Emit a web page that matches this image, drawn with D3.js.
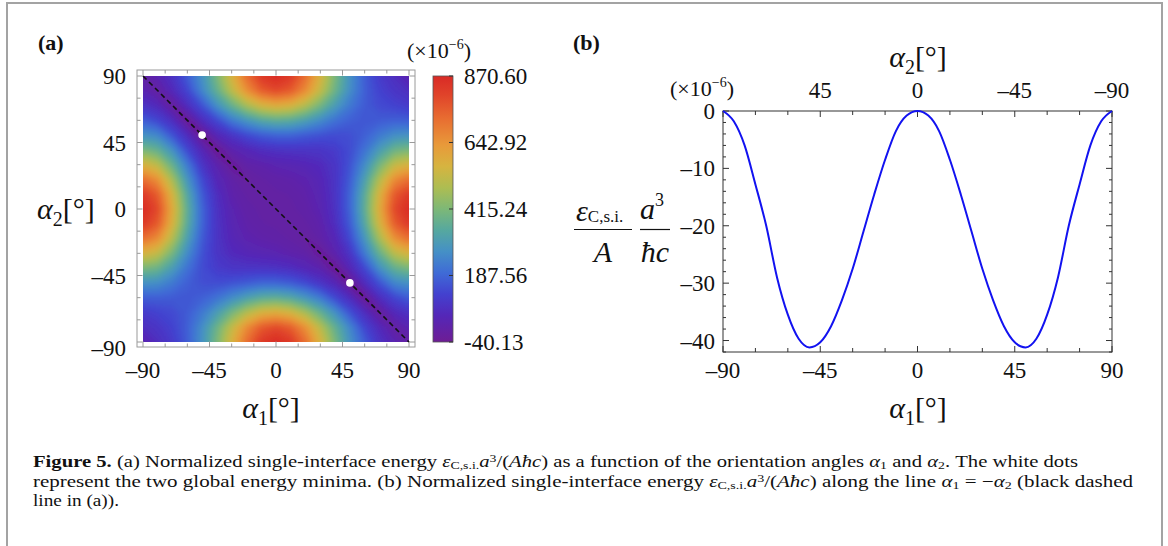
<!DOCTYPE html>
<html>
<head>
<meta charset="utf-8">
<script src="https://cdn.jsdelivr.net/npm/d3@7/dist/d3.min.js"></script>
<style>
  body { margin: 0; background: #fff; }
  svg text { font-family: "Liberation Serif", "Times New Roman", serif; fill: #111; }
</style>
</head>
<body>
<div id="chart"></div>
<script>
// ---- panel (a): energy map, x1e-6, rows alpha2 = 90 ... -90, cols alpha1 = -90 ... 90 (10 deg)
const gridAlpha1 = [-90, -80, -70, -60, -50, -40, -30, -20, -10, 0, 10, 20, 30, 40, 50, 60, 70, 80, 90]
const gridAlpha2 = [90, 80, 70, 60, 50, 40, 30, 20, 10, 0, -10, -20, -30, -40, -50, -60, -70, -80, -90]
const energyGrid = [
  [0, 35, 86, 173, 276, 411, 569, 723, 832, 870, 832, 723, 569, 411, 276, 173, 107, 71, 30],
  [35, -6, 56, 129, 249, 369, 509, 650, 754, 795, 760, 660, 523, 385, 265, 176, 124, 93, 71],
  [86, 56, -20, 70, 153, 272, 374, 477, 555, 587, 566, 497, 402, 304, 223, 169, 140, 124, 107],
  [173, 129, 70, -35, 67, 135, 225, 285, 337, 361, 351, 313, 262, 211, 176, 165, 169, 176, 173],
  [276, 249, 153, 67, -41, 47, 89, 137, 168, 184, 184, 168, 154, 142, 148, 176, 223, 265, 276],
  [411, 369, 272, 135, 47, -38, 24, 45, 70, 81, 86, 88, 91, 108, 142, 211, 304, 385, 411],
  [569, 509, 374, 225, 89, 24, -28, 9, 17, 30, 36, 45, 61, 91, 154, 262, 402, 523, 569],
  [723, 650, 477, 285, 137, 45, 9, -15, 1, 8, 14, 24, 45, 88, 169, 313, 497, 660, 723],
  [832, 754, 555, 337, 168, 70, 17, 1, -4, 0, 3, 14, 36, 86, 184, 351, 566, 760, 832],
  [870, 795, 587, 361, 184, 81, 30, 7, 0, 0, 0, 7, 30, 81, 184, 361, 587, 795, 870],
  [832, 760, 566, 351, 184, 86, 36, 14, 3, 0, -4, 1, 17, 70, 168, 337, 555, 754, 832],
  [723, 660, 497, 313, 169, 88, 45, 24, 14, 8, 1, -15, 9, 45, 137, 285, 477, 650, 723],
  [569, 523, 402, 262, 154, 91, 61, 45, 36, 30, 17, 9, -28, 24, 89, 225, 374, 509, 569],
  [411, 385, 304, 211, 142, 108, 91, 88, 86, 81, 70, 45, 24, -38, 47, 135, 272, 369, 411],
  [276, 265, 223, 176, 148, 142, 154, 168, 184, 184, 168, 137, 89, 47, -41, 67, 153, 249, 276],
  [173, 176, 169, 165, 176, 211, 262, 313, 351, 361, 337, 285, 225, 135, 67, -35, 70, 129, 173],
  [107, 124, 140, 169, 223, 304, 402, 497, 566, 587, 555, 477, 374, 272, 153, 70, -20, 56, 86],
  [71, 93, 124, 176, 265, 385, 523, 660, 760, 795, 754, 650, 509, 369, 249, 129, 56, -6, 35],
  [30, 71, 107, 173, 276, 411, 569, 723, 832, 870, 832, 723, 569, 411, 276, 173, 86, 35, 0]
]
const minima = [[-50, 50], [50, -50]]
const diagLine = [[-90, 90], [90, -90]]
const colorbarTicks = [-40.13, 187.56, 415.24, 642.92, 870.60]
const angleTicks = [-90, -45, 0, 45, 90]

// colour scheme (rainbow), positions along the colour bar
const cmapPos = [0, 0.1, 0.18, 0.26, 0.34, 0.42, 0.5, 0.58, 0.66, 0.74, 0.84, 0.93, 1]
const cmapColors = ['#6e1d94', '#5427b8', '#4341cf', '#3f6bd6', '#4590c6', '#56a89f', '#7db877',
  '#adbd52', '#d6b440', '#e89a3a', '#e86d31', '#e0432a', '#d92a26']

// ---- panel (b): along alpha1 = -alpha2
const lineAlpha1 = [-90, -85, -80, -75, -70, -65, -60, -55, -50, -45, -40, -35, -30, -25, -20, -15, -10, -5, 0,
  5, 10, 15, 20, 25, 30, 35, 40, 45, 50, 55, 60, 65, 70, 75, 80, 85, 90]
const lineEnergy = [0, -1.8, -6, -12.8, -20, -29, -35.5, -39.7, -41.2, -40.3, -37.5, -33, -27.5, -21, -14.5, -8.5, -3.5, -0.8, 0,
  -0.8, -3.5, -8.5, -14.5, -21, -27.5, -33, -37.5, -40.3, -41.2, -39.7, -35.5, -29, -20, -12.8, -6, -1.8, 0]
const energyTicks = [0, -10, -20, -30, -40]
const alpha2TopTicks = [45, 0, -45, -90]

const W = 1168, H = 546
const svg = d3.select('#chart').append('svg')
  .attr('width', W).attr('height', H)
  .style('background', '#fff')

const fmt = v => v < 0 ? '\u2013' + Math.abs(v) : String(v)

// text with italic / sub / sup pieces
function rich(sel, x, y, size, parts) {
  const t = sel.append('text').attr('x', x).attr('y', y).attr('font-size', size)
  let cur = 0
  parts.forEach(p => {
    const sp = t.append('tspan').text(p.t)
    const sh = p.shift || 0
    if (sh !== cur) { sp.attr('dy', sh - cur); cur = sh }
    if (p.i) sp.attr('font-style', 'italic')
    if (p.b) sp.attr('font-weight', 'bold')
    if (p.s) sp.attr('font-size', p.s)
  })
  return t
}
function alphaLabel(sel, x, y, n, anchor) {
  return rich(sel, x, y, 30, [
    {t: 'α', i: 1}, {t: n, s: 20, shift: 7}, {t: '[°]', shift: 0}
  ]).attr('text-anchor', anchor || 'start')
}

// figure border
svg.append('path')
  .attr('d', 'M7,' + H + 'V3H1162V' + H)
  .attr('fill', 'none').attr('stroke', '#a3a3a3').attr('stroke-width', 2)

// ================= panel (a)
const xA = d3.scaleLinear().domain([-90, 90]).range([143, 409])
const yA = d3.scaleLinear().domain([-90, 90]).range([342, 76])
const vmin = -40.13, vmax = 870.60
const color = d3.scaleLinear()
  .domain(cmapPos.map(t => vmin + t * (vmax - vmin)))
  .range(cmapColors)
  .clamp(true)

const defs = svg.append('defs')
defs.append('clipPath').attr('id', 'clipA')
  .append('rect').attr('x', xA(-90)).attr('y', yA(90))
  .attr('width', xA(90) - xA(-90)).attr('height', yA(-90) - yA(90))
defs.append('filter').attr('id', 'soft')
  .append('feGaussianBlur').attr('stdDeviation', 2.6)

const step = gridAlpha1[1] - gridAlpha1[0]
const proj = d3.geoTransform({
  point(x, y) {
    this.stream.point(xA(gridAlpha1[0] - step / 2 + x * step), yA(gridAlpha2[0] + step / 2 - y * step))
  }
})
const gpath = d3.geoPath(proj)
const contours = d3.contours()
  .size([gridAlpha1.length, gridAlpha2.length])
  .thresholds(d3.range(-46, 880, 8))(energyGrid.flat())

const heat = svg.append('g').attr('clip-path', 'url(#clipA)')
  .append('g').attr('filter', 'url(#soft)')
heat.selectAll('path')
  .data(contours)
  .enter().append('path')
    .attr('d', gpath)
    .attr('fill', d => color(d.value + 4))

// frame with inward ticks
const frameA = {x0: 137, x1: 415, y0: 70, y1: 347}
svg.append('rect')
  .attr('x', frameA.x0).attr('y', frameA.y0)
  .attr('width', frameA.x1 - frameA.x0).attr('height', frameA.y1 - frameA.y0)
  .attr('fill', 'none').attr('stroke', '#9a9a9a').attr('stroke-width', 1)
const tickVals = d3.range(-90, 91, 15)
const tlen = v => v % 45 === 0 ? 5.5 : 3.5
const ticksA = svg.append('g').attr('stroke', '#9a9a9a').attr('stroke-width', 1)
tickVals.forEach(v => {
  ticksA.append('line').attr('x1', xA(v)).attr('x2', xA(v)).attr('y1', frameA.y1).attr('y2', frameA.y1 - tlen(v))
  ticksA.append('line').attr('x1', xA(v)).attr('x2', xA(v)).attr('y1', frameA.y0).attr('y2', frameA.y0 + tlen(v))
  ticksA.append('line').attr('y1', yA(v)).attr('y2', yA(v)).attr('x1', frameA.x0).attr('x2', frameA.x0 + tlen(v))
  ticksA.append('line').attr('y1', yA(v)).attr('y2', yA(v)).attr('x1', frameA.x1).attr('x2', frameA.x1 - tlen(v))
})

// dashed diagonal and minima
svg.append('path')
  .datum(diagLine)
  .attr('d', d3.line().x(d => xA(d[0])).y(d => yA(d[1])))
  .attr('fill', 'none').attr('stroke', '#111').attr('stroke-width', 1.6)
  .attr('stroke-dasharray', '5,3.5')
svg.append('g').selectAll('circle')
  .data(minima)
  .enter().append('circle')
    .attr('cx', d => xA(d[0])).attr('cy', d => yA(d[1]))
    .attr('r', 3.8).attr('fill', '#fff')

// tick labels
svg.append('g').selectAll('text')
  .data(angleTicks)
  .enter().append('text')
    .attr('x', d => xA(d)).attr('y', 378)
    .attr('text-anchor', 'middle').attr('font-size', 23)
    .text(fmt)
svg.append('g').selectAll('text')
  .data(angleTicks)
  .enter().append('text')
    .attr('x', 126).attr('y', d => yA(d) + 8 + (d === -90 ? 6 : 0))
    .attr('text-anchor', 'end').attr('font-size', 23)
    .text(fmt)

alphaLabel(svg, 271, 418, '1', 'middle')
alphaLabel(svg, 37, 219, '2', 'start')
svg.append('text').attr('x', 38).attr('y', 50)
  .attr('font-size', 22).attr('font-weight', 'bold').text('(a)')

// colour bar
const yC = d3.scaleLinear().domain([vmin, vmax]).range([342, 76])
const grad = defs.append('linearGradient').attr('id', 'cbar')
  .attr('x1', 0).attr('y1', 1).attr('x2', 0).attr('y2', 0)
grad.selectAll('stop')
  .data(cmapPos)
  .enter().append('stop')
    .attr('offset', d => d)
    .attr('stop-color', (d, i) => cmapColors[i])
svg.append('rect')
  .attr('x', 433).attr('y', yC(vmax))
  .attr('width', 20).attr('height', yC(vmin) - yC(vmax))
  .attr('fill', 'url(#cbar)').attr('stroke', '#555').attr('stroke-width', 0.8)
svg.append('g').selectAll('line')
  .data(colorbarTicks)
  .enter().append('line')
    .attr('x1', 453).attr('x2', 449).attr('y1', d => yC(d)).attr('y2', d => yC(d))
    .attr('stroke', '#333')
svg.append('g').selectAll('text')
  .data(colorbarTicks)
  .enter().append('text')
    .attr('x', 464).attr('y', d => yC(d) + 8)
    .attr('font-size', 23)
    .text(d => d.toFixed(2))
rich(svg, 407, 58, 22, [
  {t: '(×10'}, {t: '−6', s: 14, shift: -9}, {t: ')', shift: 0}
])

// ================= panel (b)
const xB = d3.scaleLinear().domain([-90, 90]).range([723, 1112])
const x2B = d3.scaleLinear().domain([90, -90]).range([723, 1112])
const yB = d3.scaleLinear().domain([-42, 0]).range([352, 111])

const axB = svg.append('g').attr('stroke', '#333').attr('stroke-width', 1)
axB.append('rect')
  .attr('x', xB(-90)).attr('y', yB(0))
  .attr('width', xB(90) - xB(-90)).attr('height', yB(-42) - yB(0))
  .attr('fill', 'none')
const xlen = v => v % 45 === 0 ? 6 : 4
tickVals.forEach(v => {
  axB.append('line').attr('x1', xB(v)).attr('x2', xB(v)).attr('y1', yB(-42)).attr('y2', yB(-42) - xlen(v))
  axB.append('line').attr('x1', xB(v)).attr('x2', xB(v)).attr('y1', yB(0)).attr('y2', yB(0) + xlen(v))
})
d3.range(-42, 1, 2).forEach(v => {
  const l = v % 10 === 0 ? 6 : 3
  axB.append('line').attr('x1', xB(-90)).attr('x2', xB(-90) + l).attr('y1', yB(v)).attr('y2', yB(v))
  axB.append('line').attr('x1', xB(90)).attr('x2', xB(90) - l).attr('y1', yB(v)).attr('y2', yB(v))
})

svg.append('path')
  .datum(lineAlpha1.map((a, i) => [a, lineEnergy[i]]))
  .attr('d', d3.line().x(d => xB(d[0])).y(d => yB(d[1])).curve(d3.curveMonotoneX))
  .attr('fill', 'none').attr('stroke', '#1212f0').attr('stroke-width', 2)

svg.append('g').selectAll('text')
  .data(angleTicks)
  .enter().append('text')
    .attr('x', d => xB(d)).attr('y', 378)
    .attr('text-anchor', 'middle').attr('font-size', 23)
    .text(fmt)
svg.append('g').selectAll('text')
  .data(alpha2TopTicks)
  .enter().append('text')
    .attr('x', d => x2B(d)).attr('y', 98)
    .attr('text-anchor', 'middle').attr('font-size', 23)
    .text(fmt)
svg.append('g').selectAll('text')
  .data(energyTicks)
  .enter().append('text')
    .attr('x', 715).attr('y', d => yB(d) + 8)
    .attr('text-anchor', 'end').attr('font-size', 23)
    .text(fmt)
rich(svg, 670, 96, 22, [
  {t: '(×10'}, {t: '−6', s: 14, shift: -9}, {t: ')', shift: 0}
])

alphaLabel(svg, 918, 418, '1', 'middle')
alphaLabel(svg, 918, 67, '2', 'middle')
svg.append('text').attr('x', 573).attr('y', 50)
  .attr('font-size', 22).attr('font-weight', 'bold').text('(b)')

// y label: eps/A * a^3/(hbar c)
const yl = svg.append('g')
rich(yl, 576, 221, 30, [{t: 'ε', i: 1}, {t: 'C,s.i.', s: 17, shift: 1}])
yl.append('line').attr('x1', 574).attr('x2', 632).attr('y1', 229.5).attr('y2', 229.5)
  .attr('stroke', '#111').attr('stroke-width', 1.2)
yl.append('text').attr('x', 603).attr('y', 262).attr('text-anchor', 'middle')
  .attr('font-size', 30).attr('font-style', 'italic').text('A')
rich(yl, 640, 219, 30, [{t: 'a', i: 1}, {t: '3', s: 18, shift: -13}])
yl.append('line').attr('x1', 640).attr('x2', 670).attr('y1', 229.5).attr('y2', 229.5)
  .attr('stroke', '#111').attr('stroke-width', 1.2)
yl.append('text').attr('x', 655).attr('y', 262).attr('text-anchor', 'middle')
  .attr('font-size', 30).attr('font-style', 'italic').text('ħc')

// ================= caption
const eps = [{t: 'ε', i: 1}, {t: 'C,s.i.', s: 11, shift: 2}, {t: 'a', i: 1, shift: 0},
  {t: '3', s: 11, shift: -5}, {t: '/(', shift: 0}, {t: 'Aħc', i: 1}, {t: ')'}]
const al = n => [{t: 'α', i: 1, shift: 0}, {t: n, s: 11, shift: 2}]
const cap = svg.append('g')
rich(cap, 33, 467, 16.5, [
  {t: 'Figure 5.', b: 1}, {t: ' (a) Normalized single-interface energy '}, ...eps,
  {t: ' as a function of the orientation angles '}, ...al('1'), {t: ' and ', shift: 0},
  ...al('2'), {t: '. The white dots', shift: 0}
]).attr('textLength', 1045).attr('lengthAdjust', 'spacingAndGlyphs')
rich(cap, 33, 486.5, 16.5, [
  {t: 'represent the two global energy minima. (b) Normalized single-interface energy '}, ...eps,
  {t: ' along the line '}, ...al('1'), {t: ' = −', shift: 0}, ...al('2'),
  {t: ' (black dashed', shift: 0}
]).attr('textLength', 1100).attr('lengthAdjust', 'spacingAndGlyphs')
rich(cap, 33, 506, 16.5, [{t: 'line in (a)).'}])
  .attr('textLength', 86).attr('lengthAdjust', 'spacingAndGlyphs')
</script>
</body>
</html>
